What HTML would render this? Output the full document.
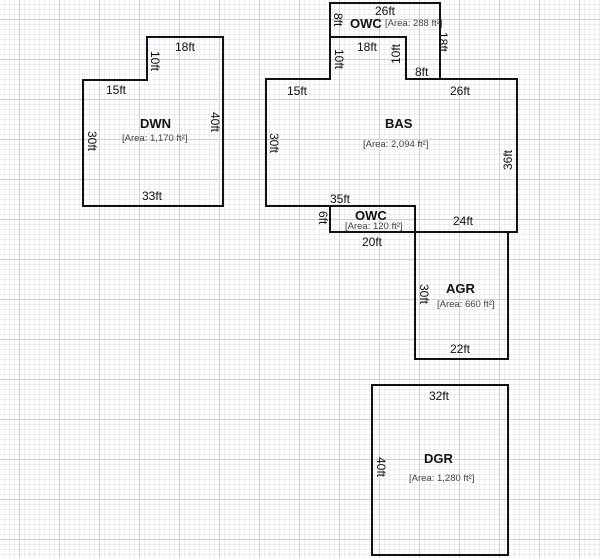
<!DOCTYPE html>
<html><head><meta charset="utf-8"><style>
html,body{margin:0;padding:0;background:#fff;width:600px;height:558px;overflow:hidden}
svg{display:block}
text{font-family:"Liberation Sans",Arial,sans-serif;fill:#111}
.d{font-size:12px}
.n{font-size:13px;font-weight:bold}
.a{font-size:9.5px;fill:#444}
</style></head><body>
<svg width="600" height="558" viewBox="0 0 600 558" xmlns="http://www.w3.org/2000/svg">
<defs>
<pattern id="g" width="5" height="5" patternUnits="userSpaceOnUse">
<path d="M5 0V5M0 5H5" stroke="#dcdcea" stroke-width="1" fill="none"/>
</pattern>
<pattern id="G" width="40" height="40" patternUnits="userSpaceOnUse">
<path d="M19.5 0V40M0 19.5H40" stroke="#cfcfd6" stroke-width="1" fill="none"/>
</pattern>
</defs>
<rect width="600" height="558" fill="#fff"/>
<rect width="600" height="558" fill="url(#g)"/>
<rect width="600" height="558" fill="url(#G)"/>
<g fill="none" stroke="#111" stroke-width="2">
<path d="M83 80H147V37H223V206H83Z"/>
<path d="M266 79H330V37H406V79H517V232H415V206H266Z"/>
<path d="M330 37V3H440V79"/>
<path d="M330 206V232H415"/>
<path d="M415 232V359H508V232"/>
<rect x="372" y="385" width="136" height="170"/>
</g>
<text class="d" x="175" y="51">18ft</text>
<text class="d" x="106" y="94">15ft</text>
<text class="d" x="142" y="200">33ft</text>
<text class="d" transform="translate(151,51) rotate(90)">10ft</text>
<text class="d" transform="translate(88,131) rotate(90)">30ft</text>
<text class="d" transform="translate(211,112) rotate(90)">40ft</text>
<text class="n" x="140" y="128">DWN</text>
<text class="a" x="122" y="141">[Area: 1,170 ft²]</text>
<text class="d" x="375" y="15">26ft</text>
<text class="n" x="350" y="28">OWC</text>
<text class="a" x="385" y="26">[Area: 288 ft²]</text>
<text class="d" transform="translate(334,13) rotate(90)">8ft</text>
<text class="d" transform="translate(439,32) rotate(90)">18ft</text>
<text class="d" x="357" y="51">18ft</text>
<text class="d" transform="translate(335,49) rotate(90)">10ft</text>
<text class="d" transform="translate(400,64) rotate(-90)">10ft</text>
<text class="d" x="415" y="76">8ft</text>
<text class="d" x="287" y="95">15ft</text>
<text class="d" x="450" y="95">26ft</text>
<text class="n" x="385" y="128">BAS</text>
<text class="a" x="363" y="147">[Area: 2,094 ft²]</text>
<text class="d" transform="translate(270,133) rotate(90)">30ft</text>
<text class="d" transform="translate(512,170) rotate(-90)">36ft</text>
<text class="d" x="330" y="203">35ft</text>
<text class="d" x="453" y="225">24ft</text>
<text class="n" x="355" y="220">OWC</text>
<text class="a" x="345" y="229">[Area: 120 ft²]</text>
<text class="d" transform="translate(319,211) rotate(90)">6ft</text>
<text class="d" x="362" y="246">20ft</text>
<text class="n" x="446" y="293">AGR</text>
<text class="a" x="437" y="307">[Area: 660 ft²]</text>
<text class="d" transform="translate(420,284) rotate(90)">30ft</text>
<text class="d" x="450" y="353">22ft</text>
<text class="d" x="429" y="400">32ft</text>
<text class="n" x="424" y="463">DGR</text>
<text class="a" x="409" y="481">[Area: 1,280 ft²]</text>
<text class="d" transform="translate(377,457) rotate(90)">40ft</text>
</svg>
</body></html>
